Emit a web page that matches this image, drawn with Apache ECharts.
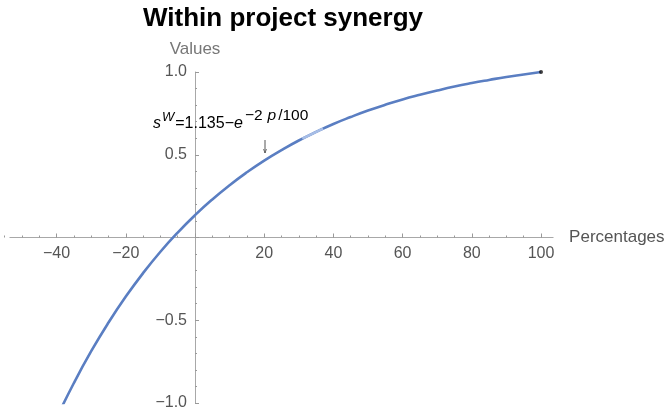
<!DOCTYPE html>
<html>
<head>
<meta charset="utf-8">
<script src="https://cdn.jsdelivr.net/npm/echarts@6/dist/echarts.min.js"></script>
<style>html,body{margin:0;padding:0;background:#fff;}#c{width:669px;height:409px;}</style>
</head>
<body>
<div id="c"></div>
<script>
// Data (curve leaves the plot at the bottom near p = -38)
const percentages = [-40, -35, -30, -25, -20, -15, -10, -5, 0, 5, 10, 15, 20, 25, 30, 35, 40, 45, 50, 55, 60, 65, 70, 75, 80, 85, 90, 95, 100];
const values = [-1.09, -0.879, -0.687, -0.514, -0.357, -0.215, -0.086, 0.030, 0.135, 0.230, 0.316, 0.394, 0.465, 0.528, 0.586, 0.638, 0.686, 0.728, 0.767, 0.802, 0.834, 0.862, 0.888, 0.912, 0.933, 0.952, 0.970, 0.985, 1.000];
// lighter stretch of the curve near the label anchor
const highlightPercentages = [31, 34, 37];
const highlightValues = [0.597, 0.628, 0.658];
const xTickLabels = ['-40', '-20', '20', '40', '60', '80', '100'];
const yTickLabels = ['-1.0', '-0.5', '0.5', '1.0'];

const curve = percentages.map((p, i) => [p, values[i]]);
const highlight = highlightPercentages.map((p, i) => [p, highlightValues[i]]);
const endPoint = [[percentages[percentages.length - 1], values[values.length - 1]]];

// layout (pixels)
const W = 669, H = 409;
const ZERO_X = 195, PX_PER_UNIT = 3.46;
const TOP = 72, BOTTOM = 6;          // y = 1.0 at TOP, y = -1.0 at H - BOTTOM
const TICK_MIN = -60, TICK_MAX = 100; // tick/scale extent (multiples of the interval)
const LINE_MIN = -53.5, LINE_MAX = 103.5; // visible extent of the horizontal axis line
const Y_MIN = -1, Y_MAX = 1;

const gridA = {left: ZERO_X + TICK_MIN * PX_PER_UNIT, right: W - (ZERO_X + TICK_MAX * PX_PER_UNIT), top: TOP, bottom: BOTTOM, containLabel: false, outerBoundsMode: 'none'};
const gridB = {left: ZERO_X + LINE_MIN * PX_PER_UNIT, right: W - (ZERO_X + LINE_MAX * PX_PER_UNIT), top: TOP, bottom: BOTTOM, containLabel: false, outerBoundsMode: 'none'};
const gh = H - TOP - BOTTOM;
const zeroY = TOP + (Y_MAX / (Y_MAX - Y_MIN)) * gh;
const xOffset = -(H - BOTTOM - zeroY);
const yOffset = -(ZERO_X - gridA.left);

const chart = echarts.init(document.getElementById('c'), null, {renderer: 'canvas'});
const F = 'Liberation Sans, Arial, sans-serif';
const minus = s => s.replace('-', '\u2212');
const AXIS_GRAY = '#a8a8a8', TICK_GRAY = '#999', LABEL_GRAY = '#555';

chart.setOption({
  animation: false,
  backgroundColor: '#fff',
  title: {
    text: 'Within project synergy',
    left: 143, top: 6, padding: 0,
    textStyle: {fontFamily: F, fontWeight: 'bold', fontSize: 26, color: '#000'}
  },
  grid: [gridA, gridB],
  xAxis: [
    { // major ticks + labels
      gridIndex: 0, type: 'value', min: TICK_MIN, max: TICK_MAX, interval: 20,
      position: 'bottom', offset: xOffset,
      axisLine: {show: false, onZero: false},
      axisTick: {show: true, inside: true, length: 4, lineStyle: {color: TICK_GRAY}},
      splitLine: {show: false},
      axisLabel: {
        formatter: v => xTickLabels.includes(String(v)) ? minus(String(v)) : '',
        fontFamily: F, fontSize: 16, color: LABEL_GRAY, margin: 8
      }
    },
    { // minor ticks
      gridIndex: 0, type: 'value', min: TICK_MIN, max: TICK_MAX, interval: 5,
      position: 'bottom', offset: xOffset,
      axisLine: {show: false, onZero: false},
      axisTick: {show: true, inside: true, length: 2, lineStyle: {color: TICK_GRAY}},
      axisLabel: {show: false},
      splitLine: {show: false}
    },
    { // visible axis line + name
      gridIndex: 1, type: 'value', min: LINE_MIN, max: LINE_MAX,
      position: 'bottom', offset: xOffset,
      name: 'Percentages', nameLocation: 'end', nameGap: 16,
      nameTextStyle: {fontFamily: F, fontSize: 17, color: LABEL_GRAY, align: 'left', verticalAlign: 'middle'},
      axisLine: {show: true, onZero: false, lineStyle: {color: AXIS_GRAY, width: 1}},
      axisTick: {show: false},
      axisLabel: {show: false},
      splitLine: {show: false}
    }
  ],
  yAxis: [
    {
      gridIndex: 0, type: 'value', min: Y_MIN, max: Y_MAX, interval: 0.5,
      position: 'left', offset: yOffset,
      name: 'Values', nameLocation: 'end', nameGap: 14,
      nameTextStyle: {fontFamily: F, fontSize: 17, color: '#777', align: 'center'},
      axisLine: {show: true, onZero: false, lineStyle: {color: AXIS_GRAY, width: 1}},
      axisTick: {show: true, inside: true, length: 4, lineStyle: {color: TICK_GRAY}},
      minorTick: {show: true, splitNumber: 5, length: 2, lineStyle: {color: TICK_GRAY}},
      splitLine: {show: false},
      axisLabel: {
        formatter: v => {
          const s = v.toFixed(1);
          return yTickLabels.includes(s) ? minus(s) : '';
        },
        fontFamily: F, fontSize: 16, color: LABEL_GRAY, margin: 8
      }
    },
    {
      gridIndex: 1, type: 'value', min: Y_MIN, max: Y_MAX, show: false
    }
  ],
  series: [
    {
      type: 'line', xAxisIndex: 0, yAxisIndex: 0, data: curve, smooth: true, showSymbol: false,
      clip: true,
      lineStyle: {color: '#5a7ec2', width: 2.6},
      z: 3
    },
    {
      type: 'line', xAxisIndex: 0, yAxisIndex: 0, data: highlight, smooth: true, showSymbol: false,
      lineStyle: {color: '#a6bde6', width: 2.6},
      z: 4
    },
    {
      type: 'scatter', xAxisIndex: 0, yAxisIndex: 0, data: endPoint, symbolSize: 4,
      itemStyle: {color: '#111'}, z: 5
    }
  ],
  graphic: [
    {
      type: 'text', x: 153, y: 132, z: 10,
      style: {
        text: '{i|s}{supi|W}{n|=1.135\u2212}{i|e}{sup|\u22122}{supp|p}{sup|/100}',
        verticalAlign: 'bottom',
        rich: {
          i: {fontFamily: F, fontStyle: 'italic', fontSize: 16, color: '#222', verticalAlign: 'bottom'},
          n: {fontFamily: F, fontSize: 16, color: '#222', verticalAlign: 'bottom', padding: [0, 0, 0, 1]},
          sup: {fontFamily: F, fontSize: 15.5, color: '#222', verticalAlign: 'bottom', padding: [0, 0, 8, 2]},
          supp: {fontFamily: F, fontStyle: 'italic', fontSize: 15.5, color: '#222', verticalAlign: 'bottom', padding: [0, 0, 8, 5]},
          supi: {fontFamily: F, fontStyle: 'italic', fontSize: 13, color: '#222', verticalAlign: 'bottom', padding: [0, 0, 8, 1]}
        }
      }
    },
    {
      type: 'line', z: 10,
      shape: {x1: 265, y1: 140, x2: 265, y2: 153},
      style: {stroke: '#555', lineWidth: 1}
    },
    {
      type: 'polyline', z: 10,
      shape: {points: [[263.5, 149], [265, 153], [266.5, 149]]},
      style: {stroke: '#555', lineWidth: 0.8, fill: null}
    }
  ]
});
</script>
</body>
</html>
